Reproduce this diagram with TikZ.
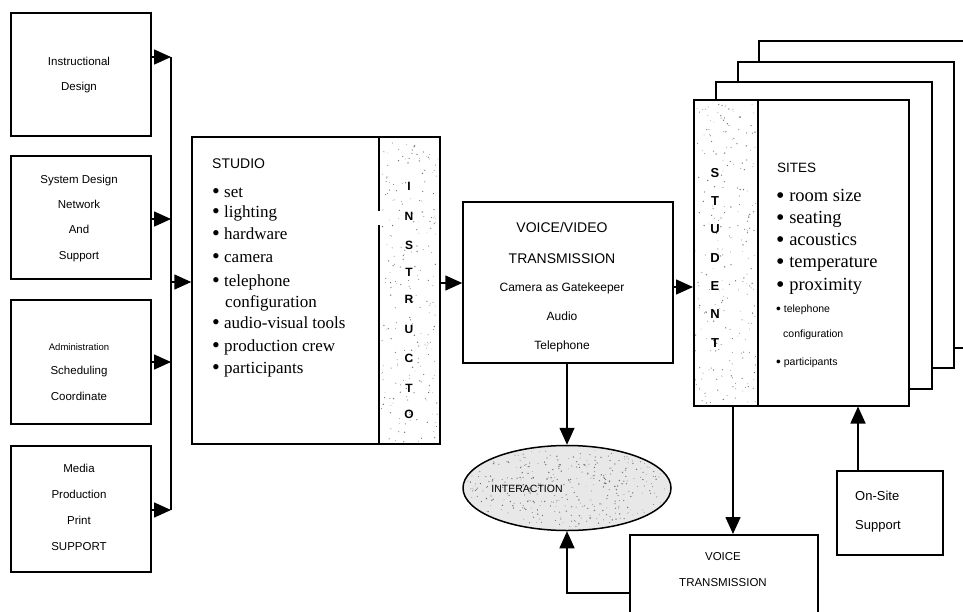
\documentclass[tikz,border=0pt]{standalone}
\usepackage{fontspec}
\usepackage{graphicx}
\setmainfont{Liberation Serif}
\setsansfont{Liberation Sans}
\usetikzlibrary{arrows.meta,shapes.geometric}

% a rounder, slightly larger bullet for the item lists, kept on the x-height
\newcommand\bul{\raisebox{-0.11em}{\scalebox{1.3}{\textbullet}}}

\tikzset{
  box/.style={draw, line width=1.5pt, fill=white, inner sep=0pt},
  wire/.style={line width=1.5pt},
  arr/.style={line width=1.5pt, -{Triangle[length=17pt,width=15pt]}},
  sans/.style={font=\sffamily\fontsize{11.5}{14}\selectfont, inner sep=0pt, anchor=base},
  head/.style={font=\sffamily\fontsize{14}{16}\selectfont, inner sep=0pt, anchor=base},
  small/.style={font=\sffamily\fontsize{12}{14}\selectfont, inner sep=0pt, anchor=base},
  item/.style={font=\fontsize{17}{20}\selectfont, inner sep=0pt, anchor=base west},
  siteitem/.style={font=\fontsize{18.5}{20}\selectfont, inner sep=0pt, anchor=base west},
  letter/.style={font=\sffamily\bfseries\fontsize{12}{14}\selectfont, inner sep=0pt, anchor=base},
  speck/.style={fill=black!55},
}

\begin{document}
\begin{tikzpicture}[x=1pt,y=-1pt]
\fill[white] (0,0) rectangle (963,611);
\useasboundingbox (0,0) rectangle (963,611);

% ---------------- support boxes on the left ----------------
\node[box, minimum width=140pt, minimum height=123pt] (b1) at (81,74.5) {};
\node[box, minimum width=140pt, minimum height=123pt] (b2) at (81,217.5) {};
\node[box, minimum width=140pt, minimum height=124pt] (b3) at (81,362) {};
\node[box, minimum width=140pt, minimum height=126pt] (b4) at (81,509) {};

\node[sans] (b1a) at (79,65) {Instructional};
\node[sans] (b1b) at (79,90) {Design};

\node[sans] (b2a) at (79,183) {System Design};
\node[sans] (b2b) at (79,208) {Network};
\node[sans] (b2c) at (79,233) {And};
\node[sans] (b2d) at (79,259) {Support};

\node[sans, font=\sffamily\fontsize{9.5}{12}\selectfont] (b3a) at (79,350) {Administration};
\node[sans] (b3b) at (79,374) {Scheduling};
\node[sans] (b3c) at (79,400) {Coordinate};

\node[sans] (b4a) at (79,472) {Media};
\node[sans] (b4b) at (79,498) {Production};
\node[sans] (b4c) at (79,524) {Print};
\node[sans] (b4d) at (79,550) {SUPPORT};

% bus collecting the support boxes
\coordinate (bus1) at (171,57);
\coordinate (bus2) at (171,219);
\coordinate (bus3) at (171,362);
\coordinate (bus4) at (171,510);
\coordinate (busS) at (171,282);
\draw[wire] (bus1) -- (bus4);
\draw[arr] (b1.east |- bus1) -- (bus1);
\draw[arr] (b2.east |- bus2) -- (bus2);
\draw[arr] (b3.east |- bus3) -- (bus3);
\draw[arr] (b4.east |- bus4) -- (bus4);

% ---------------- studio with instructor column ----------------
\node[box, minimum width=248pt, minimum height=307pt] (studio) at (316,290.5) {};
\pgfmathsetseed{17}
\begin{scope}
  \clip (381,139) rectangle (438,442);
  \foreach \k in {1,...,230}{
    \pgfmathsetmacro\px{381+57*rnd}
    \pgfmathsetmacro\py{139+303*rnd}
    \pgfmathsetmacro\pr{0.3+0.45*rnd}
    \fill[speck] (\px,\py) circle[radius=\pr pt];
  }
\end{scope}
\draw[wire] (379,137) -- (379,211);
\draw[wire] (379,225) -- (379,444);

\node[head, anchor=base west] (stt) at (212,168) {STUDIO};
\node[item] (s1) at (212,197) {\bul\ set};
\node[item] (s2) at (212,217) {\bul\ lighting};
\node[item] (s3) at (212,239) {\bul\ hardware};
\node[item] (s4) at (212,262) {\bul\ camera};
\node[item] (s5) at (212,286) {\bul\ telephone};
\node[item] (s6) at (225,307) {configuration};
\node[item] (s7) at (212,328) {\bul\ audio-visual tools};
\node[item] (s8) at (212,351) {\bul\ production crew};
\node[item] (s9) at (212,373) {\bul\ participants};

\foreach \c/\yy [count=\i] in {I/185,N/215,S/244,T/271,R/298,U/328,C/357,T/387,O/413}
  \node[letter] (in\i) at (409,\yy+5) {\c};

\draw[arr] (busS) -- (studio.west |- busS);

% ---------------- voice / video transmission ----------------
\node[box, minimum width=210pt, minimum height=161pt] (vv) at (568,282.5) {};
\node[head] (vv1) at (562,232) {VOICE/VIDEO};
\node[head] (vv2) at (562,263) {TRANSMISSION};
\node[small] (vv3) at (562,291) {Camera as Gatekeeper};
\node[small] (vv4) at (562,320) {Audio};
\node[small] (vv5) at (562,349) {Telephone};

\draw[arr] (studio.east |- 0,283) -- (vv.west |- 0,283);

% ---------------- stacked student sites ----------------
\node[box, minimum width=222pt, minimum height=307pt, anchor=north west] (sheet4) at (758,40) {};
\node[box, minimum width=216pt, minimum height=306pt, anchor=north west] (sheet3) at (737,61) {};
\node[box, minimum width=216pt, minimum height=307pt, anchor=north west] (sheet2) at (715,81) {};
\node[box, minimum width=215pt, minimum height=306pt, anchor=north west] (sheet1) at (693,99) {};
\pgfmathsetseed{29}
\begin{scope}
  \clip (695,101) rectangle (756,403);
  \foreach \k in {1,...,240}{
    \pgfmathsetmacro\px{695+61*rnd}
    \pgfmathsetmacro\py{101+302*rnd}
    \pgfmathsetmacro\pr{0.3+0.45*rnd}
    \fill[speck] (\px,\py) circle[radius=\pr pt];
  }
\end{scope}
\draw[wire] (758,99) -- (758,405);

\foreach \c/\yy [count=\i] in {S/172,T/200,U/228,D/257,E/285,N/313,T/342}
  \node[letter, font=\sffamily\bfseries\fontsize{13}{15}\selectfont] (st\i) at (715,\yy+5) {\c};

\node[head, anchor=base west, font=\sffamily\fontsize{13.5}{16}\selectfont] (sit) at (777,172) {SITES};
\node[siteitem] (r1) at (776,201) {\bul\ room size};
\node[siteitem] (r2) at (776,223) {\bul\ seating};
\node[siteitem] (r3) at (776,245) {\bul\ acoustics};
\node[siteitem] (r4) at (776,267) {\bul\ temperature};
\node[siteitem] (r5) at (776,290) {\bul\ proximity};
\node[small, anchor=base west, font=\sffamily\fontsize{10.5}{12}\selectfont] (r6) at (776,312) {\bul\ telephone};
\node[small, anchor=base west, font=\sffamily\fontsize{10.5}{12}\selectfont] (r7) at (783,337) {configuration};
\node[small, anchor=base west, font=\sffamily\fontsize{10.5}{12}\selectfont] (r8) at (776,365) {\bul\ participants};

\draw[arr] (vv.east |- 0,287) -- (sheet1.west |- 0,287);

% ---------------- interaction ----------------
\node[ellipse, draw, line width=1.5pt, fill=black!9, minimum width=208pt, minimum height=85pt, inner sep=0pt] (inter) at (567,488) {};
\pgfmathsetseed{5}
\begin{scope}
  \clip (567pt,-488pt) ellipse [x radius=101pt, y radius=39pt];
  \foreach \k in {1,...,520}{
    \pgfmathsetmacro\px{465+204*rnd}
    \pgfmathsetmacro\py{447+82*rnd}
    \pgfmathsetmacro\pr{0.3+0.5*rnd}
    \fill[speck] (\px,\py) circle[radius=\pr pt];
  }
\end{scope}
\node[sans, font=\sffamily\fontsize{10.5}{12}\selectfont] (intt) at (527,492) {INTERACTION};

% ---------------- voice transmission and on-site support ----------------
\node[box, minimum width=188pt, minimum height=106pt, anchor=north west] (vt) at (629,534) {};
\node[sans] (vt1) at (723,560) {VOICE};
\node[sans] (vt2) at (723,586) {TRANSMISSION};

\node[box, minimum width=106pt, minimum height=84pt] (os) at (890,513) {};
\node[small, anchor=base west, font=\sffamily\fontsize{13}{15}\selectfont] (os1) at (855,500) {On-Site};
\node[small, anchor=base west, font=\sffamily\fontsize{13}{15}\selectfont] (os2) at (855,529) {Support};

% ---------------- connectors ----------------
\draw[arr] (inter |- vv.south) -- (inter.north);
\coordinate (vtbend) at (567,593);
\draw[arr] (vt.west |- vtbend) -- (vtbend) -- (inter.south);
\draw[arr] (sheet1.south -| 733,0) -- (vt.north -| 733,0);
\draw[arr] (os.north -| 858,0) -- (sheet1.south -| 858,0);

\end{tikzpicture}
\end{document}
